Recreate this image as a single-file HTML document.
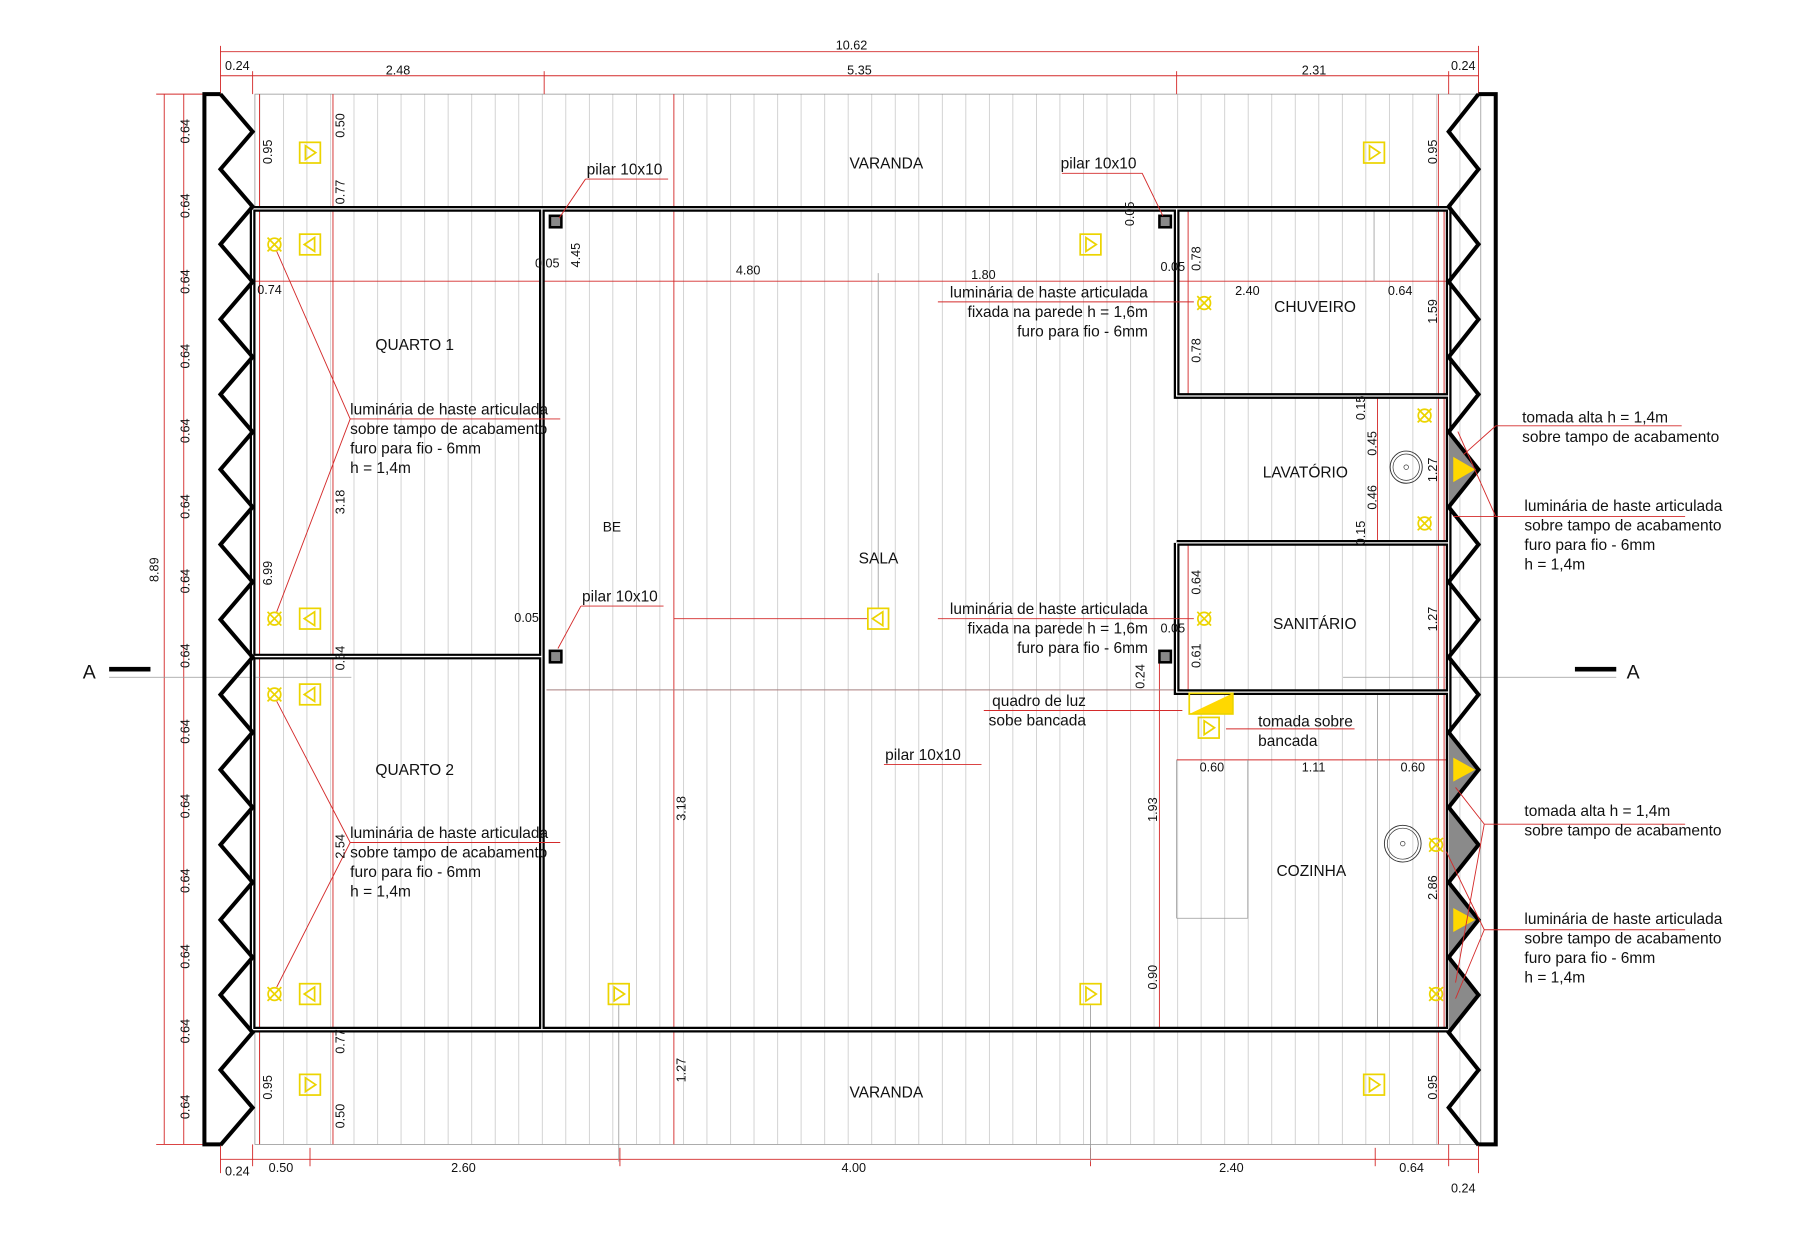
<!DOCTYPE html>
<html><head><meta charset="utf-8"><style>
html,body{margin:0;padding:0;background:#fff;}
svg{display:block;}
text{font-family:"Liberation Sans",Arial,sans-serif;fill:#111;}
.t{font-size:13.5px;}
.d{font-size:11px;}
.r{stroke:#d42a2a;stroke-width:0.8;fill:none;}
.g{stroke:#999;stroke-width:0.7;fill:none;}
.w{stroke:#000;stroke-width:5;fill:none;}
.wi{stroke:#fff;stroke-width:1.1;fill:none;}
.z{stroke:#000;stroke-width:3.5;fill:none;stroke-linejoin:miter;}
.y{stroke:#ecd400;stroke-width:1.5;fill:none;}
</style></head><body>
<svg width="1800" height="1250" viewBox="0 0 1568 1089" xmlns="http://www.w3.org/2000/svg">
<defs>
<pattern id="h" x="226" y="0" width="20.5" height="10" patternUnits="userSpaceOnUse">
<line x1="0.3" y1="0" x2="0.3" y2="10" stroke="#c4c4c4" stroke-width="0.7"/>
</pattern>
<g id="lum"><circle cx="0" cy="0" r="5.5" class="y"/><path d="M-6,-6 L6,6 M6,-6 L-6,6" class="y"/></g>
<g id="sr"><rect x="-9" y="-9" width="18" height="18" class="y"/><path d="M-4,-6 L5,0 L-4,6 Z" class="y"/></g>
<g id="sl"><rect x="-9" y="-9" width="18" height="18" class="y"/><path d="M4,-6 L-5,0 L4,6 Z" class="y"/></g>
</defs>
<rect width="1600" height="1100" fill="#fff"/>
<rect x="222" y="82" width="1068" height="915" fill="url(#h)"/>
<rect x="222" y="82" width="1068" height="915" fill="none" stroke="#888" stroke-width="0.6"/>

<g class="r">
<line x1="192" y1="45" x2="1288" y2="45"/><line x1="192" y1="66" x2="1288" y2="66"/>
<line x1="192" y1="40" x2="192" y2="82"/><line x1="1288" y1="40" x2="1288" y2="82"/>
<line x1="220" y1="62" x2="220" y2="82"/><line x1="474" y1="62" x2="474" y2="82"/><line x1="1025" y1="62" x2="1025" y2="82"/><line x1="1262" y1="62" x2="1262" y2="82"/>
<line x1="192" y1="1010" x2="1288" y2="1010"/>
<line x1="220" y1="997" x2="220" y2="1016"/><line x1="270" y1="1000" x2="270" y2="1016"/><line x1="540" y1="1000" x2="540" y2="1016"/><line x1="950" y1="1000" x2="950" y2="1016"/><line x1="1198" y1="1000" x2="1198" y2="1016"/><line x1="1262" y1="997" x2="1262" y2="1016"/>
<line x1="192" y1="997" x2="192" y2="1022"/><line x1="1288" y1="997" x2="1288" y2="1022"/>
<line x1="143" y1="82" x2="143" y2="997"/><line x1="160" y1="82" x2="160" y2="997"/>
<line x1="136" y1="82" x2="178" y2="82"/><line x1="136" y1="997" x2="178" y2="997"/>
<line x1="220" y1="245" x2="1262" y2="245"/>
<line x1="226" y1="82" x2="226" y2="997"/><line x1="290" y1="82" x2="290" y2="997"/>
<line x1="1253" y1="82" x2="1253" y2="997"/>
<line x1="587" y1="82" x2="587" y2="997"/>
<line x1="1010" y1="572" x2="1010" y2="897"/>
<line x1="1035" y1="182" x2="1035" y2="345"/><line x1="1035" y1="473" x2="1035" y2="603"/>
<line x1="1200" y1="345" x2="1200" y2="473"/>
<line x1="1025" y1="662" x2="1262" y2="662"/>
<line x1="1258" y1="182" x2="1258" y2="603"/>
<line x1="1258" y1="603" x2="1258" y2="897"/>
<line x1="587" y1="539" x2="756" y2="539"/>
<line x1="476" y1="601" x2="1030" y2="601"/>
</g>
<g class="g">
<line x1="95" y1="590" x2="306" y2="590"/><line x1="476" y1="601" x2="1025" y2="601"/>
<line x1="1170" y1="590" x2="1408" y2="590"/>
<line x1="1025" y1="662" x2="1025" y2="800"/><line x1="1087" y1="662" x2="1087" y2="800"/><line x1="1025" y1="800" x2="1087" y2="800"/>
<line x1="1200" y1="662" x2="1200" y2="897"/><line x1="1200" y1="603" x2="1200" y2="662"/>
<line x1="765" y1="238" x2="765" y2="530"/><line x1="539" y1="875" x2="539" y2="1012"/>
<line x1="950" y1="875" x2="950" y2="1012"/><line x1="1197" y1="183" x2="1197" y2="245"/>
</g>
<path d="M220,182 H1262 V897 H220 Z M472,182 V897 M220,572 H472 M1025,182 V345 H1262 M1025,473 H1262 M1025,473 V603 H1262" class="w"/>
<path d="M220,182 H1262 V897 H220 Z M472,182 V897 M220,572 H472 M1025,182 V345 H1262 M1025,473 H1262 M1025,473 V603 H1262" class="wi"/>
<g fill="#8a8a8a">
<polygon points="1262,376 1288,409 1262,442"/><polygon points="1262,638 1288,670.6 1262,703.3"/><polygon points="1262,703.3 1288,736 1262,768.7"/><polygon points="1262,768.7 1288,801.4 1262,834"/><polygon points="1262,834 1288,866.8 1262,899.5"/>
</g>
<g fill="#ffd800">
<polygon points="1266,398 1285,409 1266,420"/><polygon points="1266,660 1285,670.6 1266,681"/><polygon points="1266,791 1285,801.4 1266,812"/>
</g>
<polyline class="z" points="192,82 220,114.7 192,147.4 220,180 192,212.8 220,245.5 192,278.2 220,311 192,343.6 220,376.3 192,409 220,441.7 192,474.4 220,507 192,539.8 220,572.5 192,605.2 220,638 192,670.6 220,703.3 192,736 220,768.7 192,801.4 220,834 192,866.8 220,899.5 192,932.2 220,965 192,997.6"/>
<polyline class="z" points="1288,82 1262,114.7 1288,147.4 1262,180 1288,212.8 1262,245.5 1288,278.2 1262,311 1288,343.6 1262,376.3 1288,409 1262,441.7 1288,474.4 1262,507 1288,539.8 1262,572.5 1288,605.2 1262,638 1288,670.6 1262,703.3 1288,736 1262,768.7 1288,801.4 1262,834 1288,866.8 1262,899.5 1288,932.2 1262,965 1288,997.6"/>
<path class="z" d="M192,82 H178 V997 H192 M1288,82 H1303 V997 H1288"/>
<g fill="#888" stroke="#000" stroke-width="2.2">
<rect x="479" y="188" width="10" height="10"/><rect x="1010" y="188" width="10" height="10"/>
<rect x="479" y="567" width="10" height="10"/><rect x="1010" y="567" width="10" height="10"/>
</g>
<rect x="95" y="581" width="36" height="4" fill="#000"/><rect x="1372" y="581" width="36" height="4" fill="#000"/>
<text x="72" y="591" style="font-size:17px">A</text><text x="1417" y="591" style="font-size:17px">A</text>
<use href="#sr" x="270" y="133"/><use href="#sl" x="270" y="213"/><use href="#sl" x="270" y="539"/><use href="#sl" x="270" y="605"/><use href="#sl" x="270" y="866"/><use href="#sr" x="270" y="945"/>
<use href="#sr" x="1197" y="133"/><use href="#sr" x="950" y="213"/><use href="#sl" x="765" y="539"/><use href="#sr" x="539" y="866"/><use href="#sr" x="950" y="866"/><use href="#sr" x="1197" y="945"/>
<use href="#sr" x="1053" y="634"/>
<polygon points="1036,622 1074,604 1074,622" fill="#ffd800"/><rect x="1036" y="604" width="38" height="18" class="y"/>
<use href="#lum" x="239" y="213"/><use href="#lum" x="239" y="539"/><use href="#lum" x="239" y="605"/><use href="#lum" x="239" y="866"/>
<use href="#lum" x="1049" y="264"/><use href="#lum" x="1049" y="539"/><use href="#lum" x="1241" y="362"/><use href="#lum" x="1241" y="456"/><use href="#lum" x="1251" y="736"/><use href="#lum" x="1251" y="866"/>
<circle cx="1225" cy="407" r="14" fill="none" stroke="#333" stroke-width="0.8"/><circle cx="1225" cy="407" r="11.5" fill="none" stroke="#333" stroke-width="0.6"/><circle cx="1225" cy="407" r="2" fill="none" stroke="#333" stroke-width="0.6"/>
<circle cx="1222" cy="735" r="16" fill="none" stroke="#333" stroke-width="0.8"/><circle cx="1222" cy="735" r="13.5" fill="none" stroke="#333" stroke-width="0.6"/><circle cx="1222" cy="735" r="2" fill="none" stroke="#333" stroke-width="0.6"/>
<g class="r">
<path d="M305,365 H488 M305,365 L241,219 M305,365 L241,533"/>
<path d="M305,734 H488 M305,734 L241,611 M305,734 L241,860"/>
<path d="M510,156 H582 M510,156 L487,190"/><path d="M925,151 H995 L1013,188"/>
<path d="M506,528 H578 M506,528 L486,565"/>
<path d="M817,263 H1040"/><path d="M817,539 H1040"/>
<path d="M857,619 H1030"/><path d="M1068,635 H1180"/>
<path d="M770,666 H855"/>
<path d="M1303,371 H1465 M1303,371 L1275,396"/>
<path d="M1303,450 H1468 M1303,450 L1270,376 M1303,450 L1266,450"/>
<path d="M1293,718 H1468 M1293,718 L1268,686 M1293,718 L1268,856"/>
<path d="M1293,810 H1468 M1293,810 L1260,742 M1293,810 L1268,870"/>
</g>
<g class="t">
<text x="740" y="147">VARANDA</text><text x="740" y="956">VARANDA</text>
<text x="327" y="305">QUARTO 1</text><text x="327" y="675">QUARTO 2</text>
<text x="748" y="491">SALA</text><text x="525" y="463" style="font-size:12px">BE</text>
<text x="1110" y="272">CHUVEIRO</text><text x="1100" y="416">LAVATÓRIO</text>
<text x="1109" y="548">SANITÁRIO</text><text x="1112" y="763">COZINHA</text>
<text x="511" y="152">pilar 10x10</text><text x="924" y="147">pilar 10x10</text>
<text x="507" y="524">pilar 10x10</text><text x="771" y="662">pilar 10x10</text>
<text x="305" y="361">luminária de haste articulada</text><text x="305" y="378">sobre tampo de acabamento</text><text x="305" y="395">furo para fio - 6mm</text><text x="305" y="412">h = 1,4m</text>
<text x="305" y="730">luminária de haste articulada</text><text x="305" y="747">sobre tampo de acabamento</text><text x="305" y="764">furo para fio - 6mm</text><text x="305" y="781">h = 1,4m</text>
<g text-anchor="end">
<text x="1000" y="259">luminária de haste articulada</text><text x="1000" y="276">fixada na parede h = 1,6m</text><text x="1000" y="293">furo para fio - 6mm</text>
<text x="1000" y="535">luminária de haste articulada</text><text x="1000" y="552">fixada na parede h = 1,6m</text><text x="1000" y="569">furo para fio - 6mm</text>
<text x="946" y="615">quadro de luz</text><text x="946" y="632">sobe bancada</text>
</g>
<text x="1096" y="633">tomada sobre</text><text x="1096" y="650">bancada</text>
<text x="1326" y="368">tomada alta h = 1,4m</text><text x="1326" y="385">sobre tampo de acabamento</text>
<text x="1328" y="445">luminária de haste articulada</text><text x="1328" y="462">sobre tampo de acabamento</text><text x="1328" y="479">furo para fio - 6mm</text><text x="1328" y="496">h = 1,4m</text>
<text x="1328" y="711">tomada alta h = 1,4m</text><text x="1328" y="728">sobre tampo de acabamento</text>
<text x="1328" y="805">luminária de haste articulada</text><text x="1328" y="822">sobre tampo de acabamento</text><text x="1328" y="839">furo para fio - 6mm</text><text x="1328" y="856">h = 1,4m</text>
</g>
<g class="d">
<text x="728" y="43">10.62</text>
<text x="196" y="61">0.24</text><text x="336" y="65">2.48</text><text x="738" y="65">5.35</text><text x="1134" y="65">2.31</text><text x="1264" y="61">0.24</text>
<text x="196" y="1024">0.24</text><text x="234" y="1021">0.50</text><text x="393" y="1021">2.60</text><text x="733" y="1021">4.00</text><text x="1062" y="1021">2.40</text><text x="1219" y="1021">0.64</text><text x="1264" y="1039">0.24</text>
<text x="641" y="239">4.80</text><text x="846" y="243">1.80</text><text x="1076" y="257">2.40</text><text x="1209" y="257">0.64</text><text x="224" y="256">0.74</text>
<text x="466" y="233">0.05</text><text x="448" y="542">0.05</text><text x="1011" y="236">0.05</text><text x="1011" y="551">0.05</text>
<text x="1045" y="672">0.60</text><text x="1134" y="672">1.11</text><text x="1220" y="672">0.60</text>
</g>
<g class="d">
<text transform="translate(165,125) rotate(-90)">0.64</text><text transform="translate(165,190) rotate(-90)">0.64</text><text transform="translate(165,256) rotate(-90)">0.64</text><text transform="translate(165,321) rotate(-90)">0.64</text><text transform="translate(165,386) rotate(-90)">0.64</text><text transform="translate(165,452) rotate(-90)">0.64</text><text transform="translate(165,517) rotate(-90)">0.64</text><text transform="translate(165,582) rotate(-90)">0.64</text><text transform="translate(165,648) rotate(-90)">0.64</text><text transform="translate(165,713) rotate(-90)">0.64</text><text transform="translate(165,778) rotate(-90)">0.64</text><text transform="translate(165,844) rotate(-90)">0.64</text><text transform="translate(165,909) rotate(-90)">0.64</text><text transform="translate(165,975) rotate(-90)">0.64</text>
<text transform="translate(138,507) rotate(-90)">8.89</text>
<text transform="translate(237,143) rotate(-90)">0.95</text><text transform="translate(237,958) rotate(-90)">0.95</text><text transform="translate(237,510) rotate(-90)">6.99</text>
<text transform="translate(300,120) rotate(-90)">0.50</text><text transform="translate(300,178) rotate(-90)">0.77</text><text transform="translate(300,448) rotate(-90)">3.18</text><text transform="translate(300,584) rotate(-90)">0.64</text><text transform="translate(300,748) rotate(-90)">2.54</text><text transform="translate(300,918) rotate(-90)">0.77</text><text transform="translate(300,983) rotate(-90)">0.50</text>
<text transform="translate(505,233) rotate(-90)">4.45</text><text transform="translate(597,715) rotate(-90)">3.18</text><text transform="translate(597,943) rotate(-90)">1.27</text>
<text transform="translate(988,197) rotate(-90)">0.05</text><text transform="translate(997,600) rotate(-90)">0.24</text><text transform="translate(1008,716) rotate(-90)">1.93</text><text transform="translate(1008,862) rotate(-90)">0.90</text>
<text transform="translate(1046,236) rotate(-90)">0.78</text><text transform="translate(1046,316) rotate(-90)">0.78</text><text transform="translate(1046,518) rotate(-90)">0.64</text><text transform="translate(1046,582) rotate(-90)">0.61</text>
<text transform="translate(1189,366) rotate(-90)">0.15</text><text transform="translate(1199,397) rotate(-90)">0.45</text><text transform="translate(1199,444) rotate(-90)">0.46</text><text transform="translate(1189,475) rotate(-90)">0.15</text>
<text transform="translate(1252,420) rotate(-90)">1.27</text><text transform="translate(1252,550) rotate(-90)">1.27</text><text transform="translate(1252,282) rotate(-90)">1.59</text><text transform="translate(1252,784) rotate(-90)">2.86</text>
<text transform="translate(1252,143) rotate(-90)">0.95</text><text transform="translate(1252,958) rotate(-90)">0.95</text>
</g>
</svg>
</body></html>
